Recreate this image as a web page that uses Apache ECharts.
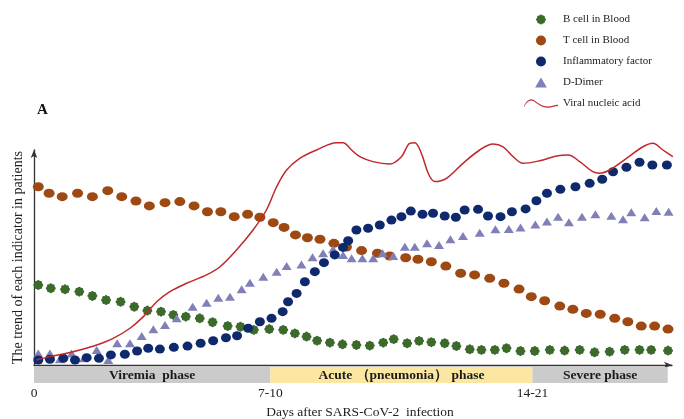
<!DOCTYPE html>
<html><head><meta charset="utf-8">
<script src="https://cdn.jsdelivr.net/npm/echarts@6/dist/echarts.min.js"></script>
<style>html,body{margin:0;padding:0;background:#fff}#c{width:684px;height:419px}</style>
</head><body><div id="c"></div>
<script>
// x = days after infection (axis scale), y = relative trend (0-100)
const bX=[0.15,0.59,1.09,1.59,2.05,2.53,3.04,3.52,3.98,4.46,4.89,5.33,5.82,6.27,6.80,7.25,7.72,8.26,8.75,9.16,9.57,9.94,10.39,10.83,11.32,11.79,12.26,12.63,13.10,13.52,13.95,14.42,14.83,15.30,15.71,16.18,16.59,17.08,17.58,18.11,18.63,19.16,19.68,20.21,20.74,21.26,21.67,22.26];
const bY=[37.2,35.7,35.2,34.1,32.1,30.2,29.4,27.1,25.3,24.8,23.3,22.5,21.7,19.9,18.1,17.8,16.3,16.7,16.3,14.7,13.2,11.3,10.4,9.6,9.3,9.0,10.4,12.0,10.1,11.2,10.6,10.1,8.8,7.3,7.0,7.0,7.8,6.5,6.5,7.0,6.7,7.0,5.9,6.2,7.0,7.0,7.0,6.7];
const tX=[0.15,0.53,0.99,1.53,2.05,2.59,3.08,3.58,4.05,4.60,5.12,5.62,6.09,6.56,7.03,7.50,7.93,8.40,8.78,9.18,9.60,10.04,10.53,10.97,11.50,12.06,12.49,13.05,13.48,13.95,14.46,14.98,15.47,16.00,16.50,17.03,17.46,17.93,18.46,18.92,19.39,19.88,20.39,20.85,21.32,21.79,22.26];
const tY=[82.9,79.9,78.3,79.9,78.3,81.1,78.3,76.3,74.0,75.5,76.0,74.0,71.3,71.3,69.0,70.1,68.7,66.2,64.0,60.5,59.2,58.5,56.6,54.9,53.2,52.0,50.7,49.9,49.2,48.0,46.0,42.7,41.9,40.3,38.0,35.3,31.8,29.9,27.4,25.9,24.0,23.6,21.7,20.1,18.1,18.1,16.7];
const iX=[0.15,0.56,1.03,1.44,1.85,2.28,2.70,3.19,3.62,4.01,4.42,4.91,5.39,5.85,6.29,6.74,7.13,7.52,7.93,8.34,8.73,8.92,9.22,9.51,9.86,10.18,10.56,10.85,11.03,11.32,11.73,12.14,12.55,12.90,13.23,13.64,14.01,14.42,14.81,15.12,15.59,15.94,16.38,16.78,17.26,17.64,18.01,18.48,19.01,19.51,19.95,20.33,20.80,21.26,21.71,22.22];
const iY=[2.3,2.7,3.1,2.3,3.4,3.1,4.7,5.0,6.5,7.8,7.4,8.2,8.8,10.1,11.3,12.7,13.6,17.1,20.1,21.7,24.8,29.4,33.3,38.7,43.4,47.6,51.2,54.7,57.8,62.8,63.6,65.1,67.4,69.0,71.6,70.1,70.6,69.3,68.7,72.1,72.4,69.3,69.0,71.3,72.6,76.4,79.9,81.7,82.9,84.5,86.4,89.9,92.0,94.3,93.0,93.0];
const dX=[0.15,0.56,0.91,1.32,1.75,2.20,2.61,2.92,3.37,3.78,4.19,4.60,5.01,5.57,6.06,6.47,6.88,7.29,7.58,8.05,8.52,8.87,9.39,9.78,10.15,10.50,10.85,11.15,11.53,11.91,12.24,12.61,13.02,13.37,13.80,14.22,14.62,15.06,15.65,16.20,16.67,17.08,17.60,18.01,18.40,18.78,19.24,19.71,20.27,20.68,20.97,21.44,21.85,22.28];
const dY=[5.4,5.4,2.7,5.4,3.1,7.0,2.3,10.1,10.1,13.5,16.6,18.6,21.7,27.1,29.0,31.3,31.8,35.2,38.3,41.1,43.4,46.0,46.8,50.1,52.0,53.8,51.2,49.6,49.6,49.6,52.0,50.7,55.0,55.0,56.6,55.8,58.5,60.0,61.5,63.1,63.3,64.0,65.4,66.7,69.0,66.4,69.0,70.1,69.4,67.8,71.0,68.7,71.6,71.3];
const vX=[0.09,0.56,1.03,1.61,2.20,2.78,3.37,3.84,4.31,4.77,5.36,6.06,6.53,7.11,7.69,8.16,8.52,8.87,9.33,9.92,10.62,10.85,11.15,11.44,11.90,12.49,12.90,13.19,13.37,13.60,13.84,14.07,14.48,15.06,15.65,16.12,16.47,16.82,17.17,17.75,18.34,18.75,19.16,19.62,19.86,20.21,20.80,21.38,21.73,22.08,22.43];
const vY=[2.3,3.9,5.1,7.0,9.3,12.4,17.1,22.5,29.4,34.1,38.0,41.9,45.7,53.5,62.8,72.1,82.9,90.7,96.1,100,103.4,103.4,100,96.9,94.6,93.5,96.9,103.1,103.4,98.5,89.2,85.3,86.8,93.8,100,102.8,101.5,96.9,93.8,95.0,97.2,97.7,94.6,89.9,89.2,90.7,96.1,101.5,103.1,100,96.9];

const seriesNames=['B cell in Blood','T cell in Blood','Inflammatory factor','D-Dimer','Viral nucleic acid'];
const phaseNames=['Viremia  phase','Acute （pneumonia） phase','Severe phase'];
const phaseStart=[0,8.3,17.5];
const phaseEnd=[8.3,17.5,22.25];
const phaseTickLabels=['0','7-10','14-21'];

const zip=(xs,ys)=>xs.map((x,i)=>[x,ys[i]]);
const SERIF='"Liberation Serif","DejaVu Serif",serif';
const X_MAX=22.4;
const C_GREEN='#3b6a2a', C_BROWN='#9e4812', C_NAVY='#0f2a6c', C_TRI='#8080b8', C_RED='#c1272d';
const phaseColors=['#cbcbcb','#fce7a2','#cbcbcb'];
const flower='path://M17.39,6.94 Q21.5,10 17.39,13.06 Q18.13,18.13 13.06,17.39 Q10,21.5 6.94,17.39 Q1.87,18.13 2.61,13.06 Q-1.5,10 2.61,6.94 Q1.87,1.87 6.94,2.61 Q10,-1.5 13.06,2.61 Q18.13,1.87 17.39,6.94 Z';
const wave='path://M0,9 C3,3 7,0 11,2 C16,5 20,10 28,10 C33,10 37,8 40,8 L40,9.4 C37,9.4 33,11.4 28,11.4 C20,11.4 16,6.4 11,3.4 C7,1.4 3,4.4 0,10.4 Z';
const tri='path://M5,0 L10,8.5 L0,8.5 Z';

const chart=echarts.init(document.getElementById('c'),null,{renderer:'canvas'});
chart.setOption({
  animation:false,
  backgroundColor:'#fff',
  textStyle:{fontFamily:SERIF},
  title:[
    {text:'A',left:32,top:98,textStyle:{fontFamily:SERIF,fontWeight:'bold',fontSize:15,color:'#111'}},
    {text:'Days after SARS-CoV-2  infection',left:355,top:400,textAlign:'center',textStyle:{fontFamily:SERIF,fontWeight:'normal',fontSize:13.5,color:'#222',lineHeight:15}}
  ],
  legend:{
    orient:'vertical',left:519,top:9,itemWidth:34,itemHeight:10,itemGap:10,
    textStyle:{fontFamily:SERIF,fontSize:11,color:'#222'},
    data:[
      {name:seriesNames[0],icon:flower},
      {name:seriesNames[1],icon:'circle'},
      {name:seriesNames[2],icon:'circle'},
      {name:seriesNames[3],icon:tri},
      {name:seriesNames[4],icon:wave,itemStyle:{color:C_RED}}
    ]
  },
  grid:[
    {left:34,right:12,top:150,bottom:54},
    {left:34,right:12,top:367,height:16}
  ],
  xAxis:[
    {type:'value',gridIndex:0,min:0,max:X_MAX,
     axisLine:{show:true,symbol:['none','arrow'],symbolSize:[5,8],lineStyle:{color:'#333',width:1.3}},
     axisTick:{show:false},axisLabel:{show:false},splitLine:{show:false}},
    {type:'value',gridIndex:1,min:0,max:X_MAX,show:false}
  ],
  yAxis:[
    {type:'value',gridIndex:0,min:0,max:100,
     name:'The trend of each indicator in patients',nameLocation:'middle',nameGap:9,
     nameTextStyle:{fontFamily:SERIF,fontSize:14,color:'#222'},
     axisLine:{show:true,symbol:['none','arrow'],symbolSize:[5,8],lineStyle:{color:'#333',width:1.3}},
     axisTick:{show:false},axisLabel:{show:false},splitLine:{show:false}},
    {type:'value',gridIndex:1,min:0,max:1,show:false}
  ],
  series:[
    {name:seriesNames[0],type:'scatter',data:zip(bX,bY),symbol:flower,symbolSize:10,itemStyle:{color:C_GREEN,opacity:1},z:3},
    {name:seriesNames[1],type:'scatter',data:zip(tX,tY),symbol:'circle',symbolSize:[11,9],itemStyle:{color:C_BROWN,opacity:1},z:3},
    {name:seriesNames[2],type:'scatter',data:zip(iX,iY),symbol:'circle',symbolSize:[10,9],itemStyle:{color:C_NAVY,opacity:1},z:4},
    {name:seriesNames[3],type:'scatter',data:zip(dX,dY),symbol:'triangle',symbolSize:[10,8],itemStyle:{color:C_TRI,opacity:1},z:3},
    {name:seriesNames[4],type:'line',data:zip(vX,vY),symbol:'none',smooth:0.35,clip:false,
     lineStyle:{color:C_RED,width:1.5},itemStyle:{color:C_RED},z:5},
    {type:'custom',xAxisIndex:1,yAxisIndex:1,clip:false,silent:true,
     data:phaseNames.map((n,i)=>[phaseStart[i],phaseEnd[i],i]),
     encode:{x:[0,1]},
     renderItem:function(params,api){
       const i=api.value(2);
       const s=api.coord([api.value(0),1]);
       const e=api.coord([api.value(1),0]);
       return {type:'group',children:[
         {type:'rect',shape:{x:s[0],y:s[1],width:e[0]-s[0],height:e[1]-s[1]},style:{fill:phaseColors[i]}},
         {type:'text',style:{text:phaseNames[i],x:(s[0]+e[0])/2,y:(s[1]+e[1])/2+0.5,align:'center',verticalAlign:'middle',
           font:'bold 13.5px "Liberation Serif", serif',fill:'#1a1a1a'}},
         {type:'text',style:{text:phaseTickLabels[i],x:s[0],y:e[1]+10,align:'center',verticalAlign:'middle',
           font:'13.5px "Liberation Serif", serif',fill:'#222'}}
       ]};
     }}
  ]
});
</script></body></html>
